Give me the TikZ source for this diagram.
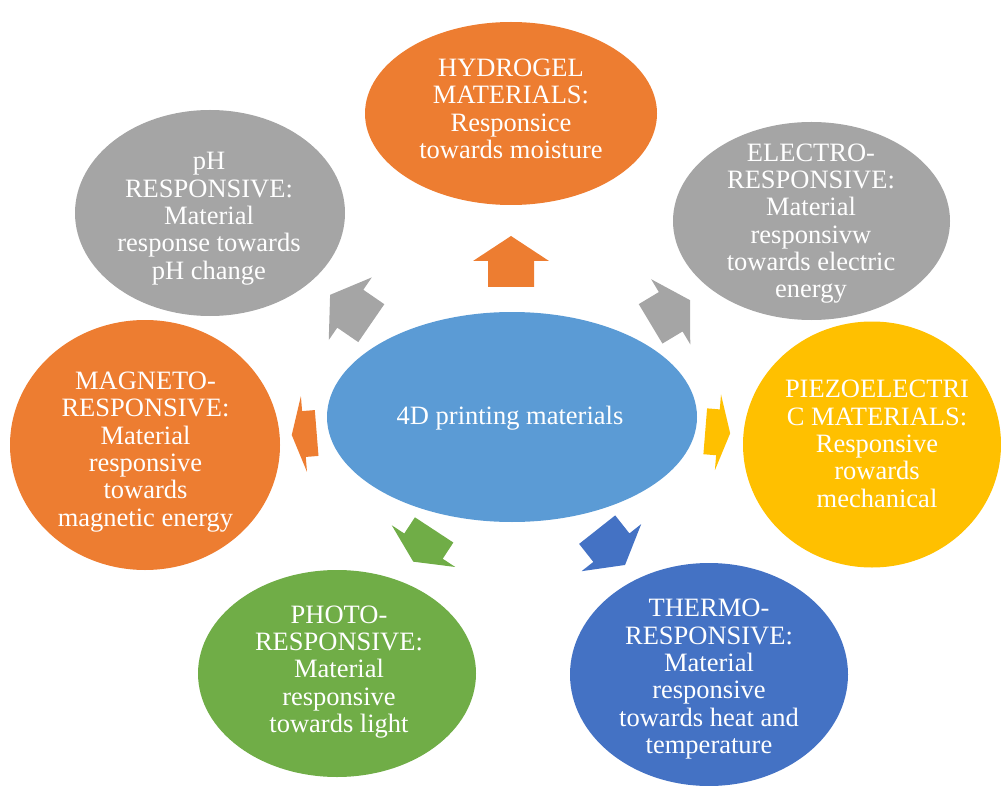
\documentclass[tikz,border=0pt]{standalone}
\usepackage{fontspec}
\setmainfont{Liberation Serif}
\usetikzlibrary{shapes.geometric}
\definecolor{cOrange}{HTML}{ED7D31}
\definecolor{cGray}{HTML}{A5A5A5}
\definecolor{cLBlue}{HTML}{5B9BD5}
\definecolor{cYellow}{HTML}{FFC000}
\definecolor{cDBlue}{HTML}{4472C4}
\definecolor{cGreen}{HTML}{70AD47}
\newcommand{\blockarrow}[4]{%
  \fill[#4, shift={#1}, rotate=#2]
    ({#3/2},0) -- ({#3/2-0.49*#3},38) -- ({#3/2-0.49*#3},23) -- ({-#3/2},23)
    -- ({-#3/2},-23) -- ({#3/2-0.49*#3},-23) -- ({#3/2-0.49*#3},-38) -- cycle;}
\begin{document}
\begin{tikzpicture}[x=1pt,y=-1pt,
  blob/.style={ellipse, inner sep=0pt, draw=none},
  txt/.style={align=center, text=white, inner sep=0pt,
    font=\fontsize{26.5}{27.3}\selectfont}]
\useasboundingbox (0,0) rectangle (1001,786);
% ellipses
\node[blob, fill=cOrange, minimum width=292pt, minimum height=183pt] (hydro) at (511,113.5) {};
\node[blob, fill=cGray, minimum width=270pt, minimum height=206pt] (ph) at (210,213) {};
\node[blob, fill=cGray, minimum width=277pt, minimum height=198pt] (electro) at (811.5,221) {};
\node[blob, fill=cYellow, minimum width=258pt, minimum height=246pt] (piezo) at (872,444.5) {};
\node[blob, fill=cOrange, minimum width=270pt, minimum height=250pt] (magneto) at (145,445) {};
\node[blob, fill=cLBlue, minimum width=370pt, minimum height=210pt] (center) at (512,417) {};
\node[blob, fill=cGreen, minimum width=278pt, minimum height=207pt] (photo) at (337,673.5) {};
\node[blob, fill=cDBlue, minimum width=278pt, minimum height=223pt] (thermo) at (709,674.5) {};
% arrows
\blockarrow{(511,261.5)}{90}{51}{cOrange}
\blockarrow{(350.7,309)}{145.5}{50}{cGray}
\blockarrow{(670.3,312)}{31}{46}{cGray}
\blockarrow{(717.7,432.3)}{-4.6}{25}{cYellow}
\blockarrow{(304.2,434)}{184.6}{25}{cOrange}
\blockarrow{(423.7,545.8)}{236.7}{38}{cGreen}
\blockarrow{(611.1,547.3)}{-51.7}{45}{cDBlue}
% texts
\node[txt] (hydro-t) at (511,108.8) {HYDROGEL\\MATERIALS:\\Responsice\\towards moisture};
\node[txt] (ph-t) at (209,218.7) {pH\\RESPONSIVE:\\Material\\response towards\\pH change};
\node[txt] (electro-t) at (811,223.7) {ELECTRO-\\RESPONSIVE:\\Material\\responsivw\\towards electric\\energy};
\node[txt] (piezo-t) at (877,443.8) {PIEZOELECTRI\\C MATERIALS:\\Responsive\\rowards\\mechanical};
\node[txt] (magneto-t) at (145.5,452) {MAGNETO-\\RESPONSIVE:\\Material\\responsive\\towards\\magnetic energy};
\node[txt] (center-t) at (510,418) {4D printing materials};
\node[txt] (photo-t) at (339,672) {PHOTO-\\RESPONSIVE:\\Material\\responsive\\towards light};
\node[txt] (thermo-t) at (709,679.2) {THERMO-\\RESPONSIVE:\\Material\\responsive\\towards heat and\\temperature};
\end{tikzpicture}
\end{document}
